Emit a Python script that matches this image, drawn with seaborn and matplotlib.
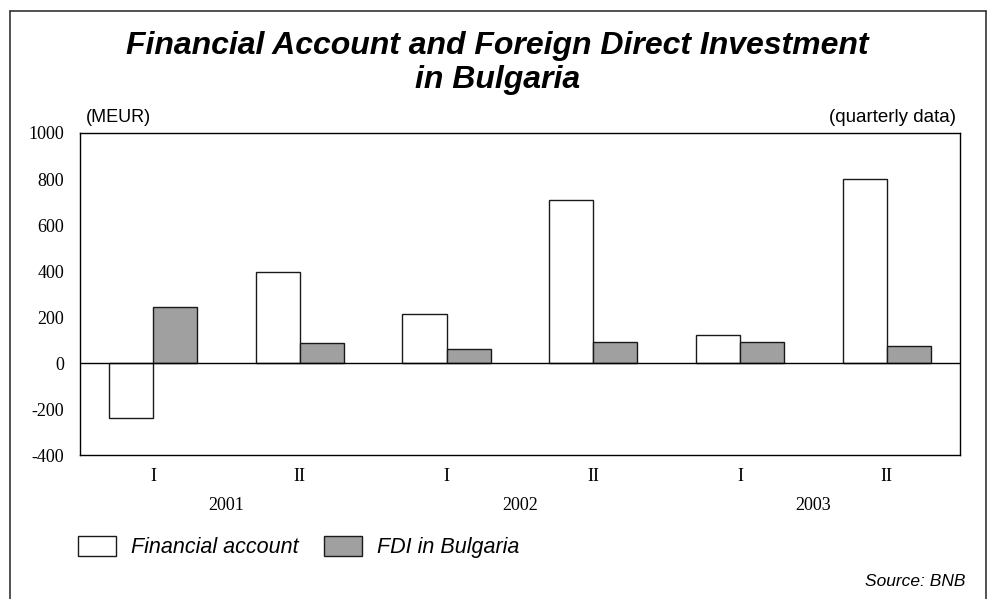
import pandas as pd
import matplotlib
matplotlib.use("Agg")
import matplotlib.pyplot as plt
import matplotlib.patches as mpatches
import matplotlib.transforms as mtransforms
from matplotlib.lines import Line2D
import seaborn as sns

# ---------- data ----------
years = ["2001", "2002", "2003"]
halves = ["I", "II", "I", "II", "I", "II"]
periods = ["2001 I", "2001 II", "2002 I", "2002 II", "2003 I", "2003 II"]
financial_account = [-240, 395, 212, 710, 123, 800]
fdi_bulgaria = [245, 88, 62, 93, 90, 75]
series_names = ["Financial account", "FDI in Bulgaria"]
series_colors = ["#ffffff", "#a0a0a0"]

df = pd.DataFrame({
    "period": periods * 2,
    "value": financial_account + fdi_bulgaria,
    "series": [series_names[0]] * 6 + [series_names[1]] * 6,
})

# ---------- style ----------
sns.set_theme(style="white")
plt.rcParams["font.family"] = ["Liberation Sans", "DejaVu Sans"]
for key in ["text.color", "axes.labelcolor", "xtick.color", "ytick.color"]:
    plt.rcParams[key] = "black"
serif = ["Liberation Serif", "DejaVu Serif"]

fig = plt.figure(figsize=(9.95, 5.99), dpi=100)
ax = fig.add_axes([0.080, 0.240, 0.885, 0.538])

sns.barplot(data=df, x="period", y="value", hue="series", order=periods,
            hue_order=series_names, palette=series_colors, width=0.6,
            edgecolor="#1a1a1a", linewidth=1.0, legend=False, ax=ax)

ax.axhline(0, color="black", lw=1.0, zorder=5)
ax.set_ylim(-400, 1000)
ax.set_xlim(-0.5, len(periods) - 0.5)
ax.set_yticks(range(-400, 1001, 200))
ax.set_yticklabels([str(v) for v in range(-400, 1001, 200)], family=serif, fontsize=13)
ax.set_xticks(range(len(periods)))
ax.set_xticklabels(halves, family=serif, fontsize=13)
ax.set_xticks([i - 0.5 for i in range(len(periods) + 1)], minor=True)
ax.tick_params(axis="x", which="major", length=0, pad=9)
ax.tick_params(axis="x", which="minor", length=7, width=1, color="black", direction="out")
ax.tick_params(axis="y", length=7, width=1, color="black", direction="out", pad=4)
ax.set_xlabel("")
ax.set_ylabel("")
for sp in ax.spines.values():
    sp.set_visible(True)
    sp.set_color("black")
    sp.set_linewidth(1.0)

# year labels under the half-year labels
trans = mtransforms.blended_transform_factory(ax.transData, ax.transAxes)
for k, yr in enumerate(years):
    ax.text(2 * k + 0.5, -0.155, yr, transform=trans, ha="center", va="center",
            family=serif, fontsize=13)

# ---------- texts ----------
fig.text(0.5, 1 - 63 / 599, "Financial Account and Foreign Direct Investment\nin Bulgaria",
         ha="center", va="center", fontsize=23, fontweight="bold", fontstyle="italic",
         linespacing=1.2)
fig.text(86 / 995, 1 - 117 / 599, "(MEUR)", ha="left", va="center", fontsize=13)
fig.text(956 / 995, 1 - 117 / 599, "(quarterly data)", ha="right", va="center", fontsize=13.5)
fig.text(966 / 995, 1 - 581 / 599, "Source: BNB", ha="right", va="center",
         fontsize=12.5, fontstyle="italic")

handles = [mpatches.Patch(facecolor=c, edgecolor="#1a1a1a", lw=1.0) for c in series_colors]
fig.legend(handles, series_names, loc="center left", bbox_to_anchor=(78 / 995, 1 - 547 / 599),
           ncol=2, frameon=False, prop={"size": 15.5, "style": "italic"},
           handlelength=1.75, handleheight=1.05, handletextpad=0.7, columnspacing=1.2,
           borderaxespad=0, borderpad=0)

# page border
for xs, ys in [([10, 10], [599, 11]), ([10, 986], [11, 11]), ([986, 986], [11, 599])]:
    fig.add_artist(Line2D([x / 995 for x in xs], [1 - y / 599 for y in ys],
                          color="#333333", lw=1.2, transform=fig.transFigure))

fig.savefig("out.png", dpi=100)
